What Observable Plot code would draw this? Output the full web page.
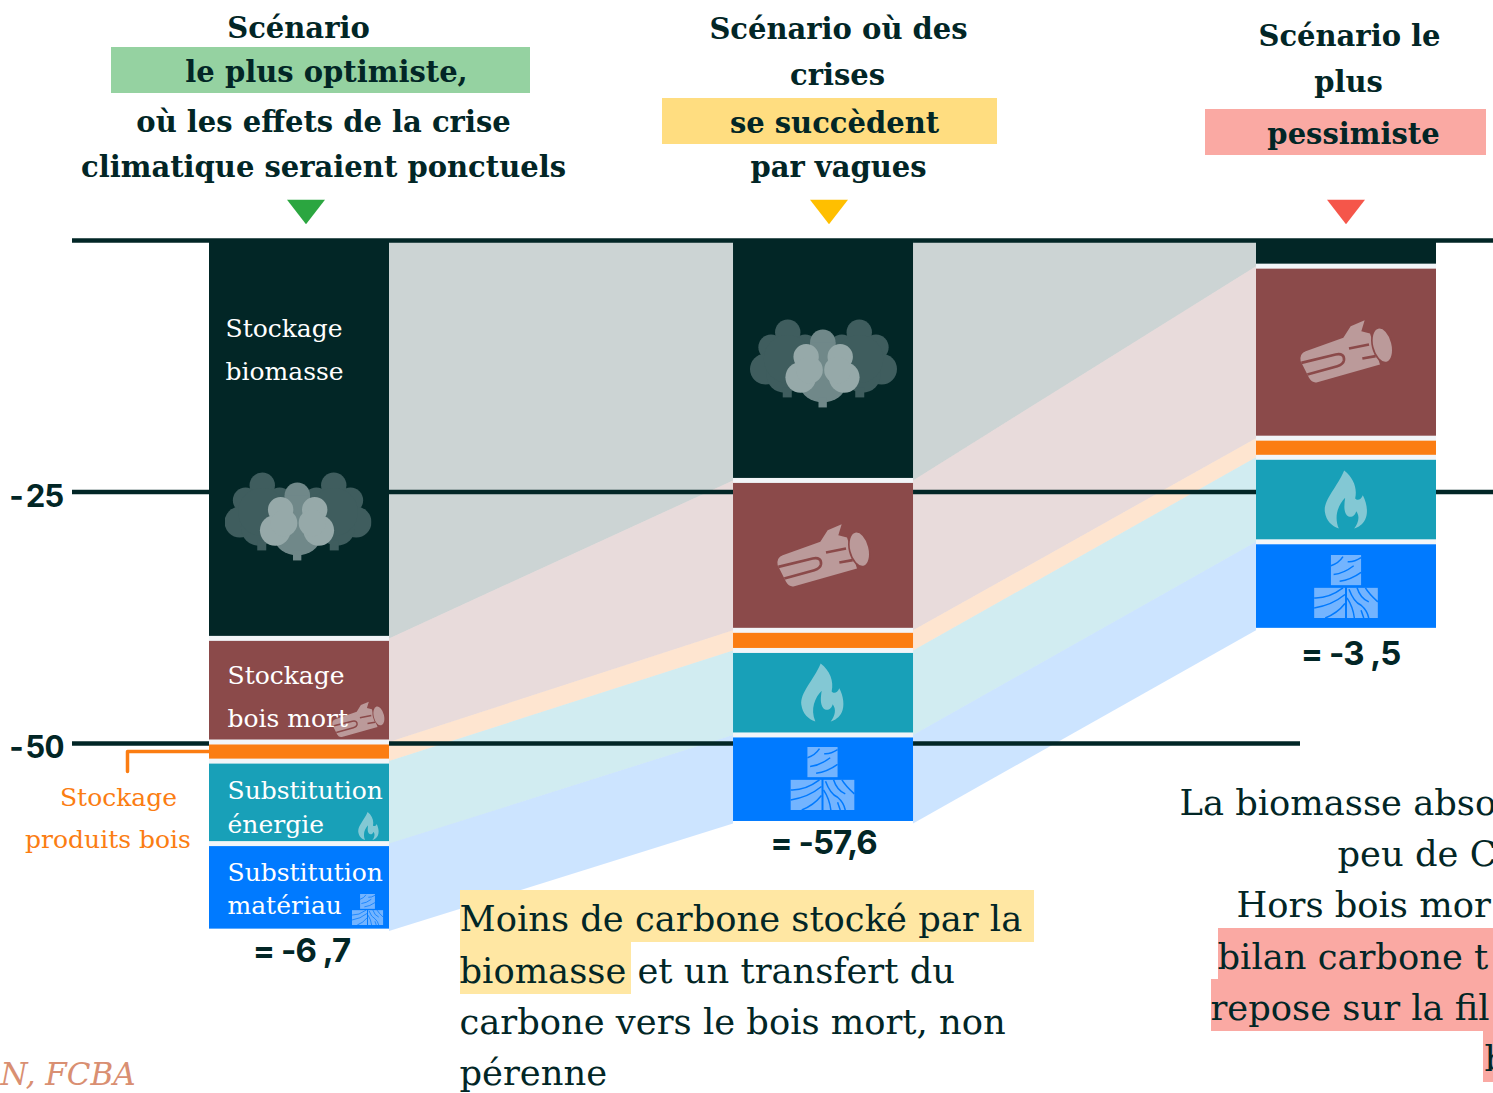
<!DOCTYPE html>
<html lang="fr"><head><meta charset="utf-8">
<script src="https://cdn.jsdelivr.net/npm/d3@7"></script>
<script src="https://cdn.jsdelivr.net/npm/@observablehq/plot@0.6"></script>
<style>
html,body{margin:0;padding:0;background:#fff;overflow:hidden}
svg{display:block;font-family:"DejaVu Serif",serif}
.sans,.sans text{font-family:Inter,"Open Sans",sans-serif;letter-spacing:-1px}
</style></head><body><div id="chart"></div>
<script>
// ---- data ----
const scenarios = [0, 1.001, 2];
const categories = ["Stockage biomasse", "Stockage bois mort", "Stockage produits bois", "Substitution énergie", "Substitution matériau"];
const biomasse = [39.6, 23.9, 2.6];
const boisMort = [10.3, 14.9, 17.1];
const produits = [1.9, 2.0, 1.9];
const energie  = [8.2, 8.4, 8.4];
const materiau = [8.7, 8.8, 8.8];
const totalLabels = ["= -6 ,7", "= -57,6", "= -3 ,5"];
const yTicks = [-25, -50];
const colors = ["#022626", "#8b4a4a", "#fb7d12", "#18a0b8", "#007aff"];
const triangleColors = ["#2ba640", "#ffbf00", "#f5564a"];

// ---- scales ----
const W = 1493, H = 1093, ML = 72;
const pxU = 10.06, y0 = 240, stepX = 523.5, x0 = 299, half = 90 / stepX;
const X = p => (p - x0) / stepX;
const Y = p => -(p - y0) / pxU;

// ---- stacked table ----
const series = [biomasse, boisMort, produits, energie, materiau];
const stack = [];
scenarios.forEach((pos, s) => {
  let acc = 0;
  series.forEach((v, c) => { stack.push({s, pos, c, top: -acc, bottom: -(acc + v[s])}); acc += v[s]; });
});
const at = (s, c) => stack.find(d => d.s === s && d.c === c);
const bands = [];
[0, 1].forEach(s => categories.forEach((_, c) => {
  const a = at(s, c), b = at(s + 1, c), key = s + "-" + c;
  bands.push({key, c, x: a.pos + half, y1: a.top, y2: a.bottom}, {key, c, x: b.pos - half, y1: b.top, y2: b.bottom});
}));
const columns = scenarios.map((pos, s) => ({pos, total: at(s, 4).bottom}));

// ---- icons ----
const svgURI = (vb, body) => "data:image/svg+xml," + encodeURIComponent(`<svg xmlns="http://www.w3.org/2000/svg" viewBox="${vb}">${body}</svg>`);
const c = (x, y, r) => `<circle cx="${x}" cy="${y}" r="${r}"/>`;
const treeSide = `<g fill="#3f5d5e">${c(185,105,38)}${c(135,150,38)}${c(237,150,38)}${c(118,215,46)}${c(175,232,54)}${c(250,215,46)}<ellipse cx="185" cy="185" rx="72" ry="72"/><rect x="170" y="270" width="27" height="30"/></g>`;
const treeIcon = svgURI("72 68 440 264",
  treeSide + `<g transform="translate(584,0) scale(-1,1)">${treeSide}</g>` +
  `<g fill="#708889">${c(290,135,38)}<rect x="252" y="135" width="76" height="130"/><ellipse cx="290" cy="268" rx="66" ry="46"/><rect x="277" y="300" width="25" height="30"/></g>` +
  `<g fill="#96a9a9">${c(240,178,38)}${c(342,178,38)}${c(224,240,46)}${c(354,240,46)}${c(250,218,40)}${c(334,218,40)}</g>`);
const logIcon = svgURI("135 68 285 196",
  `<path fill="#bb9a9a" d="M155 165 L268 125 L290 90 L332 72 L322 105 L348 112 L378 205 L190 258 Q175 262 165 245 L140 195 Q136 172 155 165Z"/>` +
  `<ellipse cx="385" cy="147" rx="32" ry="56" transform="rotate(-14 385 147)" fill="#8b4a4a"/><ellipse cx="385" cy="147" rx="27" ry="51" transform="rotate(-14 385 147)" fill="#bb9a9a"/>` +
  `<path fill="none" stroke="#8b4a4a" stroke-width="8" d="M142 200 L245 175 Q272 170 270 192 Q268 205 250 210 L160 235 M285 157 L345 145 M325 187 L365 180"/>`);
const flameIcon = svgURI("210 485 135 180",
  `<path fill="#83c8d4" d="M272 488 C300 510 312 540 305 572 C310 578 322 578 328 562 C340 585 345 615 335 635 C328 650 315 658 302 662 C315 645 320 625 308 610 C305 625 290 632 280 622 C270 610 272 590 275 570 C255 590 240 625 256 662 C235 655 218 640 214 612 C210 575 250 540 272 488Z"/>`);
const woodIcon = svgURI("180 738 194 192",
  `<g fill="#73b4ff"><rect x="232" y="740" width="90" height="90"/><rect x="182" y="838" width="92" height="90"/><rect x="280" y="838" width="92" height="90"/></g>` +
  `<path fill="none" stroke="#007aff" stroke-width="4.5" d="M232 772 Q255 765 268 745 M240 798 Q270 795 300 772 M258 818 Q290 815 322 792 M282 760 Q300 762 322 748 M182 868 Q225 870 268 838 M182 898 Q235 890 274 858 M215 928 Q250 915 274 885 M286 842 Q300 880 322 890 Q340 905 345 928 M310 838 Q320 870 345 880 M335 838 Q345 855 372 880 M280 868 Q298 895 302 928 M322 905 L330 928"/>`);
const icons = [
  {src: treeIcon, x: X(297.5), y: Y(516.5), w: 147},
  {src: treeIcon, x: X(823), y: Y(363.5), w: 147},
  {src: logIcon, x: X(358), y: Y(719), w: 54},
  {src: logIcon, x: X(823), y: Y(555), w: 95},
  {src: logIcon, x: X(1346), y: Y(351), w: 95},
  {src: flameIcon, x: X(368), y: Y(825.5), w: 29},
  {src: flameIcon, x: X(822), y: Y(692), w: 60},
  {src: flameIcon, x: X(1345.5), y: Y(499), w: 60},
  {src: woodIcon, x: X(367), y: Y(909), w: 32},
  {src: woodIcon, x: X(822), y: Y(778), w: 65},
  {src: woodIcon, x: X(1345.5), y: Y(586), w: 65}
];

const downTriangle = {draw(ctx) { ctx.moveTo(-19, -12.25); ctx.lineTo(19, -12.25); ctx.lineTo(0, 12.25); ctx.closePath(); }};

// ---- annotation helpers ----
const ink = "#022626";
const note = (str, px, py, o = {}) => Plot.text([str], {
  text: d => d, x: X(px), y: Y(py), textAnchor: o.anchor || "start", lineAnchor: "middle",
  fontSize: o.size || 30, fontWeight: o.weight || "normal", fill: o.fill || ink, fontStyle: o.italic ? "italic" : "normal",
  className: o.cls
});
const hi = (x1, x2, y1, y2, fill) => Plot.rect([0], {x1: X(x1), x2: X(x2), y1: Y(y1), y2: Y(y2), fill});
const HEAD = {size: 29, weight: 700, anchor: "middle"};
const BAR = {size: 25, fill: "#fff"};
const BODY = {size: 35.3};
const ORG = {size: 25, fill: "#fb7d12", anchor: "middle"};
const SANS = {size: 33, weight: 700, anchor: "middle", cls: "sans"};

const plot = Plot.plot({
  width: W, height: H,
  marginTop: 0, marginRight: 0, marginBottom: 0, marginLeft: ML,
  x: {domain: [X(ML), X(W)], range: [ML, W], axis: null},
  y: {domain: [Y(0), Y(H)], range: [0, H], axis: null},
  marks: [
    // ribbons between the bars
    Plot.areaY(bands, {x: "x", y1: "y1", y2: "y2", z: "key", fill: d => colors[d.c], fillOpacity: 0.2, curve: "linear"}),
    // grid
    Plot.ruleY([0], {x1: X(ML), x2: X(W), stroke: ink, strokeWidth: 4.5}),
    Plot.ruleY([-25], {x1: X(ML), x2: X(W), stroke: ink, strokeWidth: 4.5}),
    Plot.ruleY([-50], {x1: X(ML), x2: X(1300), stroke: ink, strokeWidth: 4.5}),
    // highlights
    hi(111, 530, 47, 93, "#95d2a1"), hi(662, 997, 98, 144, "#ffdd80"), hi(1205, 1486, 109, 155, "#faa9a3"),
    hi(460, 1034, 890, 942, "#ffe7a3"), hi(460, 631, 942, 994, "#ffe7a3"),
    hi(1218, 1493, 928, 979, "#faa9a3"), hi(1211, 1493, 979, 1031, "#faa9a3"), hi(1483, 1493, 1031, 1082, "#faa9a3"),
    // y axis
    Plot.axisY(yTicks, {anchor: "left", tickSize: 0, tickPadding: 9, tickFormat: d => String(d), fontSize: 31, fill: ink, fontWeight: 700, className: "sans", dy: 5, label: null}),
    // column background, then stacked bars
    Plot.rect(columns, {x1: d => d.pos - half, x2: d => d.pos + half, y1: 0, y2: "total", insetBottom: 2.5, fill: "#f2f5f8"}),
    Plot.rect(stack, {x1: d => d.pos - half, x2: d => d.pos + half, y1: "top", y2: "bottom", fill: d => colors[d.c], insetTop: 2.5, insetBottom: 2.5}),
    Plot.rect(columns, {x1: d => d.pos - half, x2: d => d.pos + half, y1: 0, y2: Y(245), fill: ink}),
    // icons
    Plot.image(icons, {x: "x", y: "y", src: "src", width: "w", height: "w", preserveAspectRatio: "xMidYMid meet"}),
    // triangles
    Plot.dot([0, 1, 2], {x: d => X([305.5, 828.5, 1345.5][d]), y: Y(211.5), r: 10, symbol: downTriangle, fill: d => triangleColors[d], stroke: "none"}),
    // leader
    Plot.line([[209, 751], [127, 751], [127, 771]], {x: d => X(d[0]), y: d => Y(d[1]), stroke: "#fb7d12", strokeWidth: 3.5, curve: "linear"}),
    // headings
    note("Scénario", 298, 28.5, HEAD), note("le plus optimiste,", 326, 72, HEAD),
    note("où les effets de la crise", 323, 122, HEAD), note("climatique seraient ponctuels", 323, 167, HEAD),
    note("Scénario où des", 838, 29, HEAD), note("crises", 837, 75, HEAD), note("se succèdent", 834, 123, HEAD), note("par vagues", 838, 167, HEAD),
    note("Scénario le", 1349, 36, HEAD), note("plus", 1348, 82, HEAD), note("pessimiste", 1353, 134, HEAD),
    // bar labels
    note("Stockage", 225, 328, BAR), note("biomasse", 225, 371, BAR),
    note("Stockage", 227, 675, BAR), note("bois mort", 227, 718, BAR),
    note("Substitution", 227, 790, BAR), note("énergie", 227, 824, BAR),
    note("Substitution", 227, 872, BAR), note("matériau", 227, 905, BAR),
    note("Stockage", 118, 797, ORG), note("produits bois", 107.5, 839, ORG),
    // totals
    note(totalLabels[0], 301, 951, SANS), note(totalLabels[1], 823, 843, SANS), note(totalLabels[2], 1350, 654, SANS),
    // commentary
    note("Moins de carbone stocké par la", 459, 919, BODY),
    note("biomasse et un transfert du", 459, 971, BODY),
    note("carbone vers le bois mort, non", 459, 1022, BODY),
    note("pérenne", 459, 1073, BODY),
    note("La biomasse abso", 1179, 803, BODY),
    note("peu de C", 1337, 854, BODY),
    note("Hors bois mor", 1236, 905, BODY),
    note("bilan carbone t", 1217, 957, BODY),
    note("repose sur la fil", 1210, 1008, BODY),
    note("b", 1484, 1059, BODY),
    note("N, FCBA", 0, 1075, {size: 31, italic: true, fill: "#d98f72"})
  ]
});
document.getElementById("chart").append(plot);
</script></body></html>
